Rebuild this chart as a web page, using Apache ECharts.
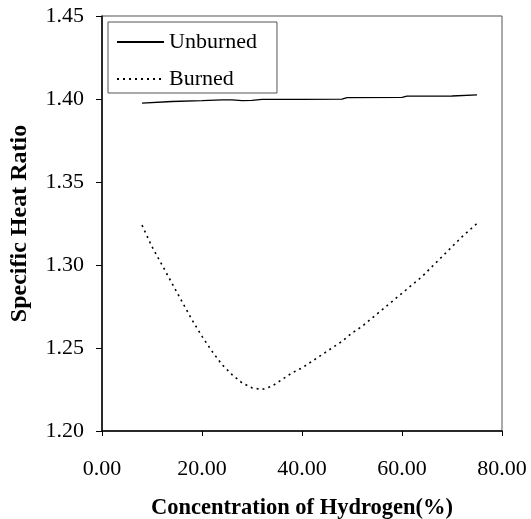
<!DOCTYPE html>
<html>
<head>
<meta charset="utf-8">
<script src="https://cdn.jsdelivr.net/npm/echarts@6/dist/echarts.min.js"></script>
<style>
  html, body { margin: 0; padding: 0; background: #fff; }
  #chart { width: 531px; height: 519px; }
</style>
</head>
<body>
<div id="chart"></div>
<script>
// Hydrogen concentration (%) and specific heat ratio of the mixture
const unburnedX = [8, 14, 20, 24, 26, 28, 30, 32, 40, 48, 49, 60, 61, 70, 75];
const unburnedY = [1.3975, 1.3985, 1.399, 1.3995, 1.3995, 1.399, 1.3992, 1.3998, 1.3998, 1.3999, 1.4008, 1.401, 1.4017, 1.4018, 1.4025];

const burnedX = [8, 10, 12, 14, 16, 18, 20, 22, 24, 26, 28, 30, 32, 34, 36, 38, 40, 42, 44, 46, 48, 50, 52, 54, 56, 58, 60, 62, 64, 66, 68, 70, 72, 75];
const burnedY = [1.324, 1.311, 1.300, 1.289, 1.278, 1.267, 1.257, 1.248, 1.240, 1.234, 1.229, 1.226, 1.225, 1.227, 1.231, 1.235, 1.238, 1.242, 1.246, 1.250, 1.254, 1.259, 1.263, 1.268, 1.273, 1.278, 1.283, 1.288, 1.293, 1.299, 1.305, 1.311, 1.317, 1.325];

const seriesNames = ['Unburned', 'Burned'];
const xTitle = 'Concentration of Hydrogen(%)';
const yTitle = 'Specific Heat Ratio';

const FONT = '"Liberation Serif", "Times New Roman", serif';

const pairs = (xs, ys) => xs.map((x, i) => [x, ys[i]]);

const chart = echarts.init(document.getElementById('chart'), null, { renderer: 'canvas' });

chart.setOption({
  animation: false,
  backgroundColor: '#fff',
  grid: {
    left: 102, right: 29, top: 16, bottom: 88,
    outerBoundsMode: 'none', containLabel: false,
    show: true, borderColor: '#555', borderWidth: 1
  },
  legend: {
    orient: 'vertical',
    left: 108, top: 22,
    padding: [9, 20, 3, 8],
    itemWidth: 47, itemHeight: 14, itemGap: 15,
    borderColor: '#555', borderWidth: 1,
    itemStyle: { opacity: 0 },
    textStyle: { fontFamily: FONT, fontSize: 22, color: '#000' },
    data: seriesNames
  },
  xAxis: {
    type: 'value', min: 0, max: 80, interval: 20,
    name: xTitle, nameLocation: 'middle', nameGap: 66,
    nameTextStyle: { fontFamily: FONT, fontSize: 22.5, fontWeight: 'bold', color: '#000' },
    axisLine: { lineStyle: { color: '#000', width: 1.5 } },
    axisTick: { show: true, inside: false, length: 5, lineStyle: { color: '#000' } },
    axisLabel: { fontFamily: FONT, fontSize: 22, color: '#000', margin: 27,
      formatter: v => v.toFixed(2) },
    splitLine: { show: false }
  },
  yAxis: {
    type: 'value', min: 1.20, max: 1.45, interval: 0.05,
    name: yTitle, nameLocation: 'middle', nameGap: 70, nameRotate: 90,
    nameTextStyle: { fontFamily: FONT, fontSize: 24, fontWeight: 'bold', color: '#000' },
    axisLine: { lineStyle: { color: '#000', width: 1.5 } },
    axisTick: { show: true, inside: false, length: 6, lineStyle: { color: '#000' } },
    axisLabel: { fontFamily: FONT, fontSize: 22, color: '#000', margin: 18,
      formatter: v => v.toFixed(2) },
    splitLine: { show: false }
  },
  series: [
    {
      name: seriesNames[0], type: 'line', showSymbol: false, symbol: 'none',
      data: pairs(unburnedX, unburnedY),
      lineStyle: { color: '#000', width: 1.3, type: 'solid' },
      itemStyle: { color: '#000' }
    },
    {
      name: seriesNames[1], type: 'line', showSymbol: false, symbol: 'none',
      data: pairs(burnedX, burnedY),
      lineStyle: { color: '#000', width: 1.6, type: [2, 4] },
      itemStyle: { color: '#000' }
    }
  ]
});
</script>
</body>
</html>
